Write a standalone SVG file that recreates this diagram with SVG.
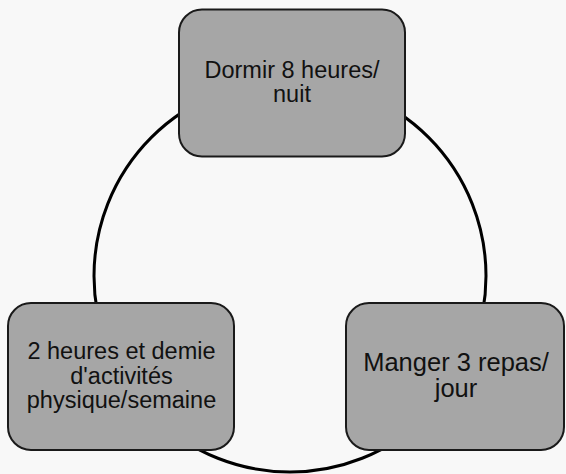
<svg xmlns="http://www.w3.org/2000/svg" width="566" height="474" viewBox="0 0 566 474">
<style>
.node{fill:#a6a6a6;stroke:#1a1a1a;stroke-width:2}
.lbl{font-family:"Liberation Sans",Arial,sans-serif;fill:#111;text-anchor:middle}
.arc{fill:none;stroke:#000;stroke-width:3}
</style>
<rect width="566" height="474" fill="#f8f8f8"/>
<g id="connectors">
<circle class="arc" cx="290" cy="276" r="196"/>
</g>
<g id="node-sleep">
<rect class="node" x="179" y="9.5" width="226" height="147" rx="23"/>
<text class="lbl" font-size="23.5" x="292" y="77.5">Dormir 8 heures/</text>
<text class="lbl" font-size="23.5" x="292" y="102.3">nuit</text>
</g>
<g id="node-eat">
<rect class="node" x="346" y="303" width="218" height="147" rx="23"/>
<text class="lbl" font-size="25.5" x="456" y="370.7">Manger 3 repas/</text>
<text class="lbl" font-size="25.5" x="456" y="396.5">jour</text>
</g>
<g id="node-sport">
<rect class="node" x="8" y="303" width="226" height="147" rx="23"/>
<text class="lbl" font-size="23.5" x="121.5" y="359.3">2 heures et demie</text>
<text class="lbl" font-size="23.5" x="121.5" y="383.5">d'activités</text>
<text class="lbl" font-size="23.5" x="121.5" y="408.3">physique/semaine</text>
</g>
</svg>
